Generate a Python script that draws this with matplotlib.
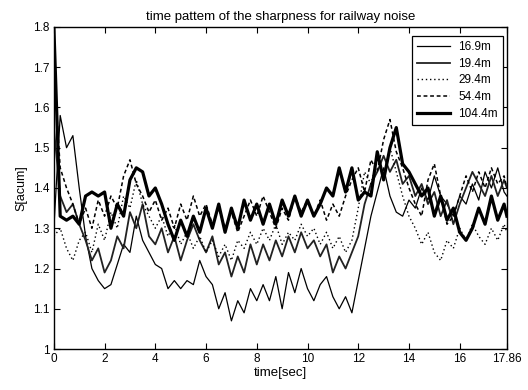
import matplotlib
matplotlib.use("Agg")
import matplotlib.pyplot as plt
import numpy as np

# sampling times (sec) shared by every curve, last sample at the end of the record
t = np.append(np.arange(0, 17.86, 0.25), 17.86)

s_169 = [1.30, 1.58, 1.50, 1.53, 1.40, 1.28, 1.20, 1.17, 1.15, 1.16, 1.21, 1.26,
         1.24, 1.33, 1.27, 1.24, 1.21, 1.20, 1.15, 1.17, 1.15, 1.17, 1.16, 1.22,
         1.18, 1.16, 1.10, 1.14, 1.07, 1.12, 1.09, 1.15, 1.12, 1.16, 1.12, 1.18,
         1.10, 1.19, 1.14, 1.20, 1.15, 1.12, 1.16, 1.18, 1.13, 1.10, 1.13, 1.09,
         1.17, 1.25, 1.33, 1.39, 1.45, 1.38, 1.34, 1.33, 1.37, 1.35, 1.40, 1.37,
         1.43, 1.38, 1.36, 1.33, 1.38, 1.36, 1.41, 1.37, 1.44, 1.40, 1.45, 1.39,
         1.38]

s_194 = [1.55, 1.38, 1.34, 1.36, 1.31, 1.27, 1.22, 1.25, 1.19, 1.22, 1.28, 1.25,
         1.34, 1.30, 1.36, 1.28, 1.26, 1.30, 1.24, 1.28, 1.22, 1.27, 1.31, 1.27,
         1.24, 1.28, 1.21, 1.24, 1.18, 1.23, 1.19, 1.26, 1.21, 1.26, 1.22, 1.27,
         1.23, 1.28, 1.24, 1.29, 1.25, 1.27, 1.23, 1.26, 1.19, 1.23, 1.20, 1.24,
         1.28, 1.36, 1.41, 1.44, 1.48, 1.44, 1.47, 1.41, 1.43, 1.38, 1.41, 1.36,
         1.39, 1.33, 1.37, 1.31, 1.36, 1.40, 1.44, 1.41, 1.38, 1.43, 1.38, 1.42,
         1.40]

s_294 = [1.28, 1.30, 1.25, 1.22, 1.27, 1.29, 1.24, 1.31, 1.27, 1.34, 1.30, 1.38,
         1.35, 1.42, 1.36, 1.33, 1.30, 1.33, 1.28, 1.31, 1.26, 1.29, 1.25, 1.28,
         1.24, 1.27, 1.23, 1.26, 1.22, 1.27, 1.25, 1.29, 1.26, 1.30, 1.27, 1.31,
         1.26, 1.29, 1.27, 1.31, 1.28, 1.30, 1.26, 1.29, 1.25, 1.28, 1.24, 1.27,
         1.35, 1.44, 1.41, 1.47, 1.43, 1.50, 1.44, 1.38, 1.33, 1.30, 1.26, 1.29,
         1.24, 1.22, 1.27, 1.25, 1.30, 1.27, 1.31, 1.28, 1.26, 1.30, 1.27, 1.31,
         1.29]

s_544 = [1.70, 1.45, 1.40, 1.36, 1.31, 1.35, 1.30, 1.37, 1.33, 1.38, 1.35, 1.43,
         1.47, 1.41, 1.38, 1.34, 1.37, 1.32, 1.35, 1.30, 1.36, 1.32, 1.38, 1.33,
         1.36, 1.31, 1.35, 1.30, 1.34, 1.29, 1.33, 1.37, 1.33, 1.38, 1.34, 1.30,
         1.35, 1.32, 1.38, 1.34, 1.37, 1.33, 1.37, 1.32, 1.36, 1.33, 1.38, 1.42,
         1.45, 1.39, 1.47, 1.44, 1.52, 1.57, 1.49, 1.45, 1.40, 1.36, 1.33, 1.42,
         1.46, 1.38, 1.31, 1.33, 1.38, 1.43, 1.39, 1.44, 1.40, 1.45, 1.41, 1.43,
         1.40]

s_1044 = [1.80, 1.33, 1.32, 1.33, 1.31, 1.38, 1.39, 1.38, 1.39, 1.30, 1.36, 1.33,
          1.42, 1.45, 1.44, 1.38, 1.40, 1.36, 1.31, 1.27, 1.32, 1.28, 1.33, 1.29,
          1.35, 1.30, 1.36, 1.29, 1.35, 1.30, 1.37, 1.32, 1.36, 1.31, 1.36, 1.31,
          1.37, 1.33, 1.38, 1.33, 1.37, 1.33, 1.36, 1.40, 1.38, 1.45, 1.39, 1.45,
          1.37, 1.39, 1.38, 1.49, 1.42, 1.50, 1.55, 1.46, 1.44, 1.41, 1.38, 1.40,
          1.33, 1.38, 1.32, 1.35, 1.29, 1.27, 1.30, 1.35, 1.31, 1.38, 1.32, 1.36,
          1.33]

labels = ["16.9m", "19.4m", "29.4m", "54.4m", "104.4m"]
xticks = [0, 2, 4, 6, 8, 10, 12, 14, 16, 17.86]
xticklabels = ["0", "2", "4", "6", "8", "10", "12", "14", "16", "17.86"]
yticks = [1, 1.1, 1.2, 1.3, 1.4, 1.5, 1.6, 1.7, 1.8]
yticklabels = ["1", "1.1", "1.2", "1.3", "1.4", "1.5", "1.6", "1.7", "1.8"]

plt.rcParams["font.family"] = ["Liberation Sans", "DejaVu Sans"]
plt.rcParams["font.size"] = 9

fig = plt.figure(figsize=(5.28, 3.9), dpi=100)
ax = fig.add_axes([0.102, 0.105, 0.858, 0.826])

ax.plot(t, s_169, color="black", lw=0.9, label=labels[0])
ax.plot(t, s_194, color="#222222", lw=1.3, label=labels[1])
ax.plot(t, s_294, color="black", lw=1.0, ls=(0, (1, 2)), label=labels[2])
ax.plot(t, s_544, color="black", lw=1.1, ls=(0, (2.5, 1.8)), label=labels[3])
ax.plot(t, s_1044, color="black", lw=2.3, label=labels[4])

ax.set_xlim(0, 17.86)
ax.set_ylim(1, 1.8)
ax.set_xticks(xticks)
ax.set_xticklabels(xticklabels)
ax.set_yticks(yticks)
ax.set_yticklabels(yticklabels)
ax.tick_params(direction="in", top=True, right=True, length=4, width=0.8,
               labelsize=8.5, pad=3)
for sp in ax.spines.values():
    sp.set_linewidth(1.0)

ax.set_title("time pattem of the sharpness for railway noise", fontsize=9.5, pad=5)
ax.set_xlabel("time[sec]", fontsize=9.5, labelpad=1)
ax.set_ylabel("S[acum]", fontsize=9, labelpad=4)

leg = ax.legend(loc="upper right", bbox_to_anchor=(0.997, 0.98), fontsize=8.5,
                frameon=True, fancybox=False, edgecolor="black",
                handlelength=2.8, handletextpad=0.7, borderpad=0.45,
                labelspacing=0.4, borderaxespad=0.2)
leg.get_frame().set_linewidth(0.9)
leg.get_frame().set_alpha(1)

fig.savefig("out.png", dpi=100)
